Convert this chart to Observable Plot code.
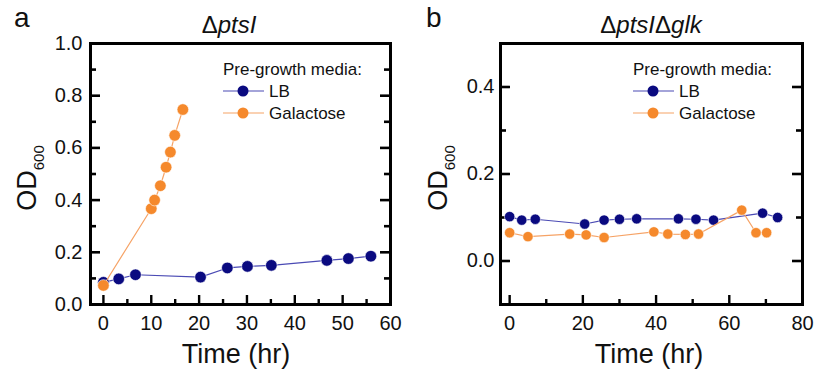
<!DOCTYPE html>
<html><head><meta charset="utf-8">
<script src="https://cdn.jsdelivr.net/npm/d3@7"></script>
<script src="https://cdn.jsdelivr.net/npm/@observablehq/plot@0.6"></script>
<style>
body{margin:0;background:#fff;}
#wrap{display:flex;width:814px;height:374px;background:#fff;}
svg text{font-family:"Liberation Sans",Arial,sans-serif;}
</style></head><body><div id="wrap"></div>
<script>
// Series
const seriesNames = ["LB", "Galactose"];
const dotColors = ["#0a0a80", "#f5892c"];
const lineColors = ["#4a4ab4", "#f6a366"];

// Panel a: ΔptsI
const aLB_t  = [0, 3.2, 6.7, 20.3, 25.9, 30.1, 35.1, 46.7, 51.2, 55.9];
const aLB_od = [0.085, 0.098, 0.114, 0.105, 0.140, 0.146, 0.150, 0.169, 0.176, 0.185];
const aGal_t  = [0, 10.0, 10.7, 11.9, 13.1, 14.0, 14.9, 16.6];
const aGal_od = [0.073, 0.367, 0.400, 0.455, 0.526, 0.584, 0.648, 0.747];

// Panel b: ΔptsIΔglk
const bLB_t  = [0, 3.3, 7.0, 20.5, 25.8, 30.0, 34.7, 46.1, 50.9, 55.7, 69.1, 73.2];
const bLB_od = [0.102, 0.094, 0.096, 0.085, 0.094, 0.096, 0.097, 0.097, 0.096, 0.094, 0.110, 0.100];
const bGal_t  = [0, 5.0, 16.4, 20.9, 25.8, 39.4, 43.2, 48.0, 51.6, 63.4, 67.3, 70.2];
const bGal_od = [0.065, 0.056, 0.062, 0.060, 0.054, 0.067, 0.062, 0.061, 0.062, 0.117, 0.065, 0.065];

// Ticks
const aXMajor = [0, 10, 20, 30, 40, 50, 60];
const aXMinor = [5, 15, 25, 35, 45, 55];
const aYMajor = [0, 0.2, 0.4, 0.6, 0.8, 1.0];
const aYMinor = [0.1, 0.3, 0.5, 0.7, 0.9];
const bXMajor = [0, 20, 40, 60, 80];
const bXMinor = [10, 30, 50, 70];
const bYMajor = [0, 0.2, 0.4];
const bYMinor = [-0.1, 0.1, 0.3, 0.5];

const legendTitle = "Pre-growth media:";
const xTitle = "Time (hr)";

function toRows(ts, ods) { return ts.map((t, i) => ({t, od: ods[i]})); }

function makePanel(cfg) {
  const series = cfg.series;
  const W = 407, H = 374, MT = 43, MB = 70;
  const fw = W - cfg.ml - cfg.mr, fh = H - MT - MB;
  const marks = [
    Plot.axisX(cfg.xMajor, {tickSize: 0, tickPadding: 11, label: null, fontSize: 20, tickFormat: d => d3.format("d")(d)}),
    Plot.axisY(cfg.yMajor, {tickSize: 0, tickPadding: cfg.yPad, label: null, fontSize: 20, tickFormat: d3.format(".1f")}),
    // inward ticks
    Plot.tickX(cfg.xMajor, {x: d => d, insetTop: fh - 9, stroke: "#000", strokeWidth: 2.4}),
    Plot.tickX(cfg.xMinor, {x: d => d, insetTop: fh - 5, stroke: "#000", strokeWidth: 2.4}),
    Plot.tickY(cfg.yMajor, {y: d => d, insetRight: fw - 10, stroke: "#000", strokeWidth: 2.6}),
    Plot.tickY(cfg.yMinor, {y: d => d, insetRight: fw - 6, stroke: "#000", strokeWidth: 2.6}),
    Plot.tickY(cfg.yMajor, {y: d => d, insetLeft: fw - 10, stroke: "#000", strokeWidth: 2.6}),
    Plot.tickY(cfg.yMinor, {y: d => d, insetLeft: fw - 6, stroke: "#000", strokeWidth: 2.6})
  ];
  series.forEach((s, i) => {
    marks.push(Plot.line(s, {x: "t", y: "od", stroke: lineColors[i], strokeWidth: 1.2}));
    marks.push(Plot.dot(s, {x: "t", y: "od", fill: dotColors[i], r: cfg.r, stroke: "white", strokeWidth: 0.6}));
  });
  marks.push(Plot.frame({stroke: "#000", strokeWidth: 3}));

  const svg = Plot.plot({
    width: W, height: H,
    marginLeft: cfg.ml, marginRight: cfg.mr, marginTop: MT, marginBottom: MB,
    style: {fontFamily: "Liberation Sans, Arial, sans-serif", color: "#111", background: "white", overflow: "visible"},
    x: {domain: cfg.xDomain},
    y: {domain: cfg.yDomain},
    marks
  });

  const g = d3.select(svg).append("g").attr("fill", "#111").attr("text-anchor", "start");
  g.append("text").attr("x", cfg.letterX).attr("y", 27).attr("font-size", 28).text(cfg.letter);
  const tt = g.append("text").attr("x", cfg.titleX).attr("y", 33).attr("font-size", 24).attr("text-anchor", "middle");
  cfg.titleParts.forEach(([txt, it]) => tt.append("tspan").attr("font-style", it ? "italic" : "normal").text(txt));
  const yt = g.append("text").attr("transform", `translate(${cfg.yTitleX},${cfg.yTitleY}) rotate(-90)`)
    .attr("text-anchor", "middle").attr("font-size", 27);
  yt.append("tspan").text("OD");
  yt.append("tspan").attr("font-size", 15).attr("dy", 8).text("600");
  g.append("text").attr("x", cfg.xTitleX).attr("y", 363).attr("text-anchor", "middle").attr("font-size", 27).text(xTitle);
  const L = cfg.legend;
  g.append("text").attr("x", L.x).attr("y", 75).attr("font-size", 17).text(legendTitle);
  seriesNames.forEach((name, i) => {
    const y = 91 + i * 22;
    g.append("line").attr("x1", L.x).attr("x2", L.x + 41).attr("y1", y).attr("y2", y)
      .attr("stroke", lineColors[i]).attr("stroke-width", 1.2);
    g.append("circle").attr("cx", L.x + 20).attr("cy", y).attr("r", 5.5).attr("fill", dotColors[i]);
    g.append("text").attr("x", L.x + 46).attr("y", y + 6).attr("font-size", 17).text(name);
  });
  return svg;
}

const wrap = document.getElementById("wrap");
wrap.appendChild(makePanel({
  letter: "a", letterX: 14, titleX: 229,
  titleParts: [["Δ", false], ["ptsI", true]],
  series: [toRows(aLB_t, aLB_od), toRows(aGal_t, aGal_od)],
  xDomain: [-2.7, 60], yDomain: [0, 1.0],
  xMajor: aXMajor, xMinor: aXMinor, yMajor: aYMajor, yMinor: aYMinor,
  ml: 90, mr: 17, yPad: 8, r: 5.8,
  yTitleX: 36, yTitleY: 178, xTitleX: 236,
  legend: {x: 223}
}));
wrap.appendChild(makePanel({
  letter: "b", letterX: 19, titleX: 244,
  titleParts: [["Δ", false], ["ptsI", true], ["Δ", false], ["glk", true]],
  series: [toRows(bLB_t, bLB_od), toRows(bGal_t, bGal_od)],
  xDomain: [-2.5, 80], yDomain: [-0.1, 0.5],
  xMajor: bXMajor, xMinor: bXMinor, yMajor: bYMajor, yMinor: bYMinor,
  ml: 93, mr: 12, yPad: 6, r: 5.2,
  yTitleX: 40, yTitleY: 178, xTitleX: 242,
  legend: {x: 226}
}));
</script></body></html>
